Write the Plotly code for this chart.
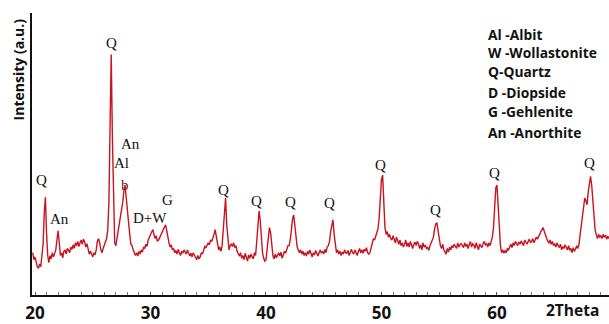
import numpy as np
import plotly.graph_objects as go

# Diffraction scan: 2-theta from 19.8 deg in 0.1 deg steps
two_theta_start = 19.8
two_theta_step = 0.1
intensity = [
    150, 125,                                                   # 19.8-19.9
    135, 115, 100, 95, 110, 100, 130, 180, 290, 347,            # 20.0-20.9
    220, 140, 115, 140, 128, 150, 135, 145, 160, 195,           # 21
    228, 185, 140, 150, 132, 155, 160, 145, 165, 158,           # 22
    150, 170, 162, 178, 165, 185, 175, 190, 172, 185,           # 23
    195, 180, 198, 188, 170, 182, 160, 145, 155, 140,           # 24
    135, 150, 142, 160, 190, 200, 185, 160, 150, 165,           # 25
    175, 185, 200, 230, 330, 600, 853, 560, 330, 185,           # 26
    175, 200, 240, 262, 280, 300, 330, 370, 390, 345,           # 27
    290, 250, 215, 180, 175, 160, 148, 140, 150, 138,           # 28
    155, 145, 160, 152, 170, 165, 180, 172, 195, 205,           # 29
    215, 225, 232, 215, 200, 210, 190, 195, 205, 215,           # 30
    220, 235, 245, 249, 230, 200, 185, 170, 178, 160,           # 31
    165, 150, 158, 145, 162, 150, 140, 155, 148, 160,           # 32
    152, 145, 160, 150, 138, 148, 135, 150, 142, 130,           # 33
    125, 140, 128, 135, 150, 145, 160, 172, 168, 180,           # 34
    185, 178, 195, 190, 200, 215, 232, 210, 175, 160,           # 35
    170, 155, 175, 230, 300, 344, 250, 185, 160, 175,           # 36
    180, 172, 185, 168, 175, 155, 145, 138, 150, 130,           # 37
    140, 125, 148, 135, 120, 142, 130, 145, 138, 128,           # 38
    150, 140, 190, 250, 298, 265, 185, 150, 130, 120,           # 39
    125, 170, 215, 239, 220, 170, 140, 128, 145, 132,           # 40
    140, 150, 138, 152, 130, 145, 155, 148, 162, 175,           # 41
    175, 195, 230, 270, 284, 245, 195, 170, 160, 150,           # 42
    160, 145, 155, 140, 150, 138, 155, 145, 160, 148,           # 43
    135, 150, 142, 158, 145, 138, 150, 160, 148, 155,           # 44
    145, 162, 150, 170, 175, 190, 225, 255, 267, 215,           # 45
    175, 150, 160, 145, 155, 140, 152, 145, 160, 150,           # 46
    148, 158, 140, 155, 162, 150, 145, 160, 152, 140,           # 47
    155, 165, 150, 160, 148, 162, 155, 168, 150, 145,           # 48
    150, 165, 180, 200, 195, 210, 215, 235, 275, 360,           # 49
    410, 425, 330, 240, 215, 225, 205, 215, 200, 195,           # 50
    210, 198, 185, 205, 190, 180, 195, 175, 185, 170,           # 51
    180, 195, 172, 185, 170, 190, 178, 165, 180, 188,           # 52
    175, 190, 182, 165, 178, 160, 185, 170, 175, 165,           # 53
    170, 158, 175, 185, 200, 205, 235, 252, 256, 225,           # 54
    195, 175, 165, 180, 160, 150, 145, 165, 152, 170,           # 55
    160, 175, 168, 180, 172, 165, 185, 170, 178, 182,           # 56
    175, 168, 185, 172, 180, 165, 178, 190, 170, 182,           # 57
    178, 165, 185, 172, 160, 180, 175, 168, 182, 190,           # 58
    178, 182, 170, 185, 175, 190, 205, 240, 330, 380,           # 59
    390, 320, 230, 175, 150, 160, 148, 158, 150, 165,           # 60
    160, 172, 180, 168, 185, 175, 190, 182, 175, 188,           # 61
    180, 192, 185, 175, 195, 188, 180, 190, 198, 185,           # 62
    190, 200, 185, 195, 205, 198, 210, 215, 225, 235,           # 63
    239, 225, 210, 200, 190, 185, 195, 180, 190, 175,           # 64
    182, 170, 185, 175, 168, 180, 160, 172, 165, 178,           # 65
    170, 160, 175, 158, 165, 150, 168, 155, 162, 175,           # 66
    165, 180, 214, 250, 290, 320, 344, 335, 320, 365,           # 67
    400, 421, 390, 330, 263, 230, 214, 200, 215, 205,           # 68
    210, 200, 215, 205, 212, 198, 208, 200,                     # 69.0-69.7
]
two_theta = np.round(two_theta_start + two_theta_step * np.arange(len(intensity)), 2)

# Phase labels above the peaks: (label, 2-theta, intensity height)
peak_labels = ["Q", "An", "Q", "An", "Al", "b", "D+W", "G",
               "Q", "Q", "Q", "Q", "Q", "Q", "Q", "Q"]
peak_label_x = [20.6, 22.1, 26.58, 28.31, 27.53, 27.79, 29.96, 31.43,
                36.3, 39.2, 42.1, 45.5, 49.9, 54.7, 59.8, 68.0]
peak_label_y = [407, 270, 895, 537, 467, 390, 274, 337,
                372, 333, 330, 326, 460, 302, 432, 467]

legend_lines = ["Al -Albit", "W -Wollastonite", "Q-Quartz",
                "D -Diopside", "G -Gehlenite", "An -Anorthite"]

x_ticks = [20, 30, 40, 50, 60]

W, H = 609, 324
ML, MR, MT, MB = 32, 0, 13, 26
SANS = "Open Sans"


def px_to_paper(px, py):
    return (px - ML) / (W - ML - MR), (H - MB - py) / (H - MT - MB)


fig = go.Figure()
fig.add_trace(go.Scatter(
    x=two_theta, y=intensity, mode="lines",
    line=dict(color="#c8141f", width=1.4),
    hoverinfo="skip", showlegend=False,
))

annotations = []
for lab, x, y in zip(peak_labels, peak_label_x, peak_label_y):
    annotations.append(dict(
        x=x, y=y, xref="x", yref="y", text=lab, showarrow=False,
        font=dict(family="Liberation Serif", size=15,
                  color="#6a1a1a" if lab == "b" else "#111111"),
        xanchor="center", yanchor="middle",
    ))

legend_y = [35, 53, 72, 93, 113, 134]
for txt, py in zip(legend_lines, legend_y):
    xp, yp = px_to_paper(486, py)
    annotations.append(dict(
        x=xp, y=yp, xref="paper", yref="paper", text=txt, showarrow=False,
        font=dict(family=SANS, size=13.8, color="#111111", weight="bold"),
        xanchor="left", yanchor="middle",
    ))

xp, yp = px_to_paper(572, 313)
annotations.append(dict(
    x=xp, y=yp, xref="paper", yref="paper", text="2Theta", showarrow=False,
    font=dict(family=SANS, size=15.5, color="#111111", weight="bold"),
    xanchor="center", yanchor="middle",
))

xp, yp = px_to_paper(18, 70)
annotations.append(dict(
    x=xp, y=yp, xref="paper", yref="paper", text="Intensity (a.u.)",
    showarrow=False, textangle=-90,
    font=dict(family=SANS, size=14, color="#111111", weight="bold"),
    xanchor="center", yanchor="middle",
))

fig.update_layout(
    width=W, height=H,
    margin=dict(l=ML, r=MR, t=MT, b=MB),
    paper_bgcolor="white", plot_bgcolor="white",
    annotations=annotations,
    xaxis=dict(
        range=[19.74, 69.7], showgrid=False, zeroline=False,
        showline=True, linecolor="#111111", linewidth=1.5,
        tickvals=x_ticks, ticks="inside", ticklen=3, tickcolor="#555555",
        tickfont=dict(family=SANS, size=17, color="#111111", weight="bold"),
        ticklabelstandoff=2,
        minor=dict(dtick=1, ticks="inside", ticklen=3, tickcolor="#777777",
                   showgrid=False),
    ),
    yaxis=dict(
        range=[0, 1000], showgrid=False, zeroline=False,
        showline=True, linecolor="#111111", linewidth=1.5,
        showticklabels=False, ticks="",
    ),
)

fig.write_html("out.html")
